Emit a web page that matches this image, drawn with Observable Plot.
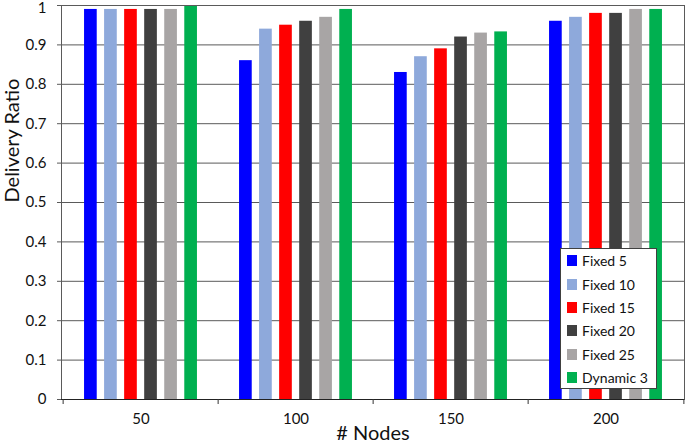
<!DOCTYPE html>
<html>
<head>
<meta charset="utf-8">
<script src="https://cdn.jsdelivr.net/npm/d3@7"></script>
<script src="https://cdn.jsdelivr.net/npm/@observablehq/plot@0.6"></script>
<style>
  html, body { margin: 0; padding: 0; background: #fff; }
  #chart { position: relative; width: 685px; height: 442px; font-family: Lato, "Open Sans", sans-serif; }
  #legend { position: absolute; left: 560px; top: 248px; width: 97px; height: 141px; border: 1px solid #404040; background: #fff; box-sizing: border-box; padding-top: 0px; }
  .row { display: flex; align-items: center; height: 23.4px; font-size: 14px; color: #111; white-space: nowrap; }
  .sw { width: 10px; height: 11px; margin-left: 6px; margin-right: 5px; flex: none; }
</style>
</head>
<body>
<div id="chart"></div>
<script>
// ---- data ----
const nodes = ["50", "100", "150", "200"];
const series = ["Fixed 5", "Fixed 10", "Fixed 15", "Fixed 20", "Fixed 25", "Dynamic 3"];
const colors = ["#0000FF", "#8EA9DB", "#FF0000", "#404040", "#A8A5A5", "#00B050"];
const fixed5   = [0.99, 0.86, 0.83, 0.96];
const fixed10  = [0.99, 0.94, 0.87, 0.97];
const fixed15  = [0.99, 0.95, 0.89, 0.98];
const fixed20  = [0.99, 0.96, 0.92, 0.98];
const fixed25  = [0.99, 0.97, 0.93, 0.99];
const dynamic3 = [1.00, 0.99, 0.933, 0.99];
const yTicks = [0, 0.1, 0.2, 0.3, 0.4, 0.5, 0.6, 0.7, 0.8, 0.9, 1];
const xTitle = "# Nodes";
const yTitle = "Delivery Ratio";

const seriesValues = [fixed5, fixed10, fixed15, fixed20, fixed25, dynamic3];
const rows = [];
series.forEach((s, i) => nodes.forEach((n, j) => rows.push({series: s, nodes: n, value: seriesValues[i][j]})));

// ---- layout ----
const W = 685, H = 442, mL = 61, mR = 1, mT = 5, mB = 43;
const bw = (W - mL - mR) / nodes.length;
const inner = d3.scaleBand(series, [0, bw]).paddingInner(0.33).paddingOuter(1.05);

const barMarks = series.map(s => Plot.barY(rows.filter(d => d.series === s), {
  x: "nodes", y: "value", fill: "series",
  insetLeft: inner(s), insetRight: bw - inner(s) - inner.bandwidth()
}));

const fmt = d3.format("~f");

const plot = Plot.plot({
  width: W, height: H,
  marginLeft: mL, marginRight: mR, marginTop: mT, marginBottom: mB,
  style: {fontFamily: "Lato, 'Open Sans', sans-serif", color: "#111", background: "#fff", overflow: "visible"},
  x: {domain: nodes, padding: 0, axis: null},
  y: {domain: [0, 1], axis: null},
  color: {domain: series, range: colors},
  marks: [
    Plot.ruleY(yTicks, {stroke: "#5a5a5a", strokeWidth: 1}),
    Plot.axisY({ticks: yTicks, tickSize: 4, tickFormat: () => "", stroke: "#5a5a5a", label: null}),
    Plot.axisY({ticks: yTicks.slice(0, -1), tickSize: 4, tickPadding: 11, fontSize: 15, stroke: "none", tickFormat: fmt, label: null}),
    Plot.axisY({ticks: yTicks.slice(-1), tickSize: 4, tickPadding: 11, fontSize: 15, stroke: "none", tickFormat: fmt, dy: 3, label: null}),
    ...barMarks,
    Plot.frame({stroke: "#5a5a5a"}),
    Plot.ruleY([0], {stroke: "#222"}),
    Plot.axisX({ticks: nodes, tickSize: 5, tickFormat: () => "", dx: -bw / 2, stroke: "#333", label: null}),
    Plot.axisX({ticks: nodes.slice(-1), tickSize: 5, tickFormat: () => "", dx: bw / 2, stroke: "#333", label: null}),
    Plot.axisX({ticks: nodes, tickSize: 0, tickPadding: 14, fontSize: 15, label: null}),
    Plot.text([xTitle], {frameAnchor: "bottom", dy: 40, lineAnchor: "bottom", fontSize: 20, fill: "#111"}),
    Plot.text([yTitle], {frameAnchor: "left", dx: -49, rotate: -90, fontSize: 20, fill: "#111"})
  ]
});

const chart = document.getElementById("chart");
chart.appendChild(plot);

const legend = document.createElement("div");
legend.id = "legend";
series.forEach((s, i) => {
  const row = document.createElement("div");
  row.className = "row";
  const sw = document.createElement("span");
  sw.className = "sw";
  sw.style.background = colors[i];
  const t = document.createElement("span");
  t.textContent = s;
  row.appendChild(sw);
  row.appendChild(t);
  legend.appendChild(row);
});
chart.appendChild(legend);
</script>
</body>
</html>
